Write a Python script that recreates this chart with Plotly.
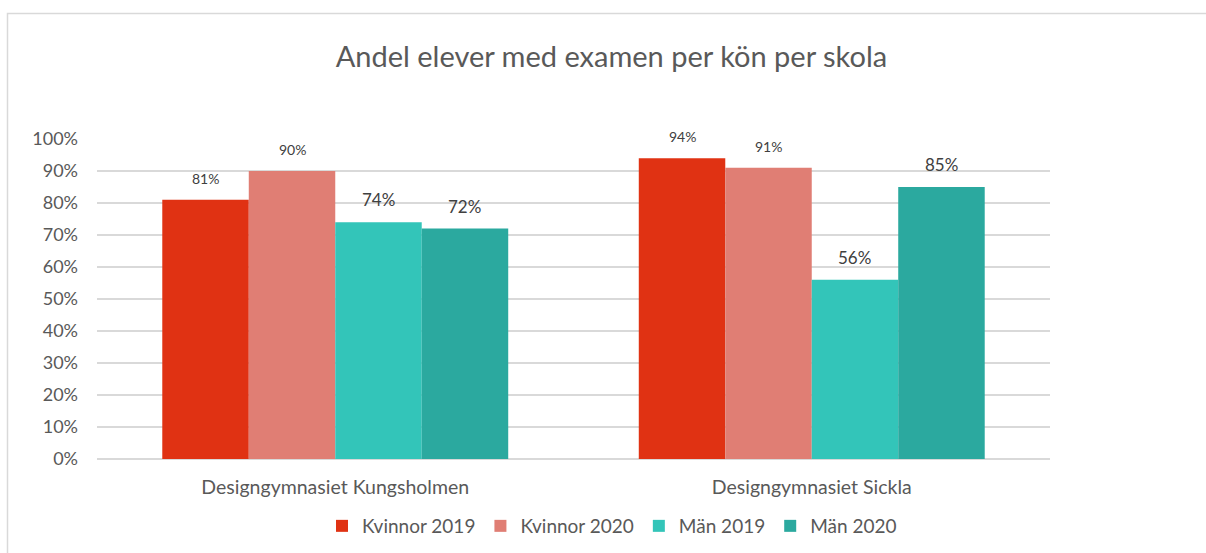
import plotly.graph_objects as go

schools = ["Designgymnasiet Kungsholmen", "Designgymnasiet Sickla"]
series_names = ["Kvinnor 2019", "Kvinnor 2020", "Män 2019", "Män 2020"]
kvinnor_2019 = [0.81, 0.94]
kvinnor_2020 = [0.90, 0.91]
man_2019 = [0.74, 0.56]
man_2020 = [0.72, 0.85]
y_ticks = [0, 0.1, 0.2, 0.3, 0.4, 0.5, 0.6, 0.7, 0.8, 0.9, 1.0]

series_values = [kvinnor_2019, kvinnor_2020, man_2019, man_2020]
colors = ["#E03213", "#E07E74", "#33C5B9", "#2BA99F"]
label_sizes = [14, 14, 17, 17]
label_shift = [11, 11, 10, 10]

FONT = "Lato"
fig = go.Figure()
for name, vals, c in zip(series_names, series_values, colors):
    fig.add_trace(go.Bar(name=name, x=schools, y=vals, marker_color=c,
                         marker_line_width=0))

W, H = 1206, 553
ml, mr, mt, mb = 97, 156, 139, 94
plot_w = W - ml - mr
plot_h = H - mt - mb
bargap = 0.274
bar_px = plot_w / 2 * (1 - bargap) / 4

annotations = []
for i, (vals, sz, sh) in enumerate(zip(series_values, label_sizes, label_shift)):
    for s, v in zip(schools, vals):
        annotations.append(dict(x=s, y=v, xref="x", yref="y",
                                text=f"{round(v*100)}%", showarrow=False,
                                xshift=(i - 1.5) * bar_px, yshift=sh,
                                yanchor="bottom",
                                font=dict(family=FONT, size=sz, color="#404040")))

fig.update_layout(
    width=W, height=H,
    margin=dict(l=ml, r=mr, t=mt, b=mb, autoexpand=False),
    paper_bgcolor="white", plot_bgcolor="white",
    barmode="group", bargap=bargap, bargroupgap=0,
    title=dict(text="Andel elever med examen per kön per skola",
               x=0.507, xanchor="center", xref="container",
               y=1 - 57 / H, yanchor="middle", yref="container",
               font=dict(family=FONT, size=29, color="#595959")),
    font=dict(family=FONT, color="#595959"),
    legend=dict(orientation="h", x=(612 - ml) / plot_w, xanchor="center",
                y=(459 - 526) / plot_h, yanchor="middle",
                font=dict(family=FONT, size=19, color="#595959"),
                itemwidth=30, tracegroupgap=0),
    annotations=annotations,
    showlegend=True,
)
fig.update_xaxes(showgrid=False, showline=False, ticks="",
                 tickfont=dict(family=FONT, size=19.5, color="#595959"),
                 ticklabelstandoff=14)
fig.update_yaxes(range=[0, 1.0], tickvals=y_ticks, tickformat=".0%",
                 showgrid=True, gridcolor="#D9D9D9", gridwidth=1.5,
                 zeroline=True, zerolinecolor="#D9D9D9", zerolinewidth=1.5,
                 showline=False, ticks="",
                 tickfont=dict(family=FONT, size=18, color="#595959"),
                 ticklabelstandoff=18)
fig.add_shape(type="rect", xref="paper", yref="paper",
              x0=(7.5 - ml) / plot_w, x1=(W + 5 - ml) / plot_w,
              y0=(mb - 5 - H) / plot_h,
              y1=(H - 13.5 - mb) / plot_h,
              line=dict(color="#D9D9D9", width=1.5), layer="below")
fig.write_html("out.html", config={"displayModeBar": False},
               post_script="document.body.style.margin='0px';")
